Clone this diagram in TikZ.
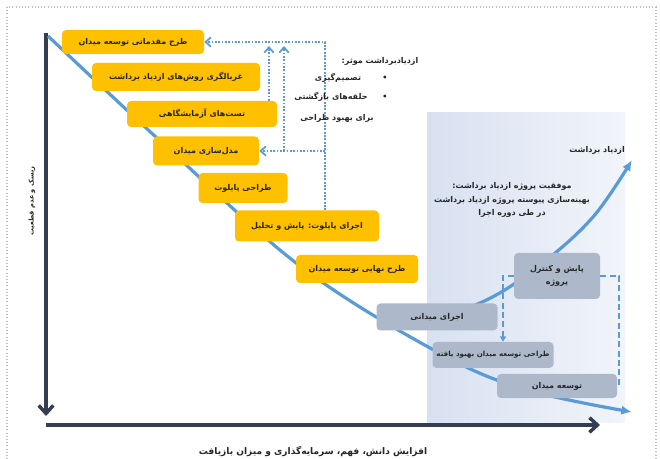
\documentclass[tikz,border=0pt]{standalone}
\usepackage{fontspec}
\usetikzlibrary{arrows.meta}
\newfontfamily\arabicfont[Script=Arabic]{DejaVu Sans}
\TeXXeTstate=1
\definecolor{StageYellow}{RGB}{255,192,0}
\definecolor{FieldGray}{RGB}{173,185,202}
\definecolor{CurveBlue}{RGB}{91,155,213}
\definecolor{AxisSlate}{RGB}{51,63,80}
\definecolor{PanelBlue}{RGB}{216,225,241}
\definecolor{FrameGray}{RGB}{191,191,191}
\newdimen\px \px=0.75pt
\newcommand{\fa}[1]{\beginR#1\endR}
\newcommand{\zw}{\char"200C\relax}
\newcommand{\fasize}[1]{\fontsize{#1}{10}\selectfont}
\tikzset{
  note/.style={font=\arabicfont\bfseries\fasize{6}, text=black!85, inner sep=0pt},
  stagebox/.style={note, fill=StageYellow, rounded corners=3pt},
  fieldbox/.style={note, fill=FieldGray, rounded corners=3pt, align=center},
  loopline/.style={CurveBlue, line width=1.3pt, dash pattern=on 1.3pt off 1.2pt,
    -{Straight Barb[length=4pt,width=7pt]}},
  taskline/.style={CurveBlue, line width=1.6pt, dash pattern=on 4.5pt off 2.5pt},
  trend/.style={CurveBlue, line width=2.4pt, -{Latex[length=8pt,width=7pt]}},
  axisline/.style={AxisSlate, line width=2.6pt, -{Straight Barb[length=6pt,width=11pt]}},
}
\begin{document}
\begin{tikzpicture}[x=0.75pt,y=-0.75pt]
  \useasboundingbox (0,0) rectangle (660,459);
  \draw[FrameGray, line width=1pt, dash pattern=on 0.8pt off 1.6pt] (7,7) rectangle (656,470);
  \shade[left color=PanelBlue, right color=PanelBlue!35!white] (427,113) rectangle (625,422);
  % axes
  \draw[axisline] (46,33) -- (46,416);
  \draw[axisline] (46,425) -- (600,425);
  % trends
  \draw[trend] plot[smooth, tension=0.6] coordinates
    {(48,36) (170,150) (300,266) (430,348) (520,388) (632,412)};
  \draw[trend] plot[smooth, tension=0.6] coordinates
    {(400,326) (480,303) (540,265) (593,217) (632,160)};
  % pilot stages
  \node[stagebox, minimum width=142\px, minimum height=24\px] (prelim) at (133,42) {\fa{طرح مقدماتی توسعه میدان}};
  \node[stagebox, minimum width=168\px, minimum height=28\px] (screen) at (176,77) {\fa{غربالگری روش\zw های ازدیاد برداشت}};
  \node[stagebox, minimum width=150\px, minimum height=26\px] (lab) at (202,114) {\fa{تست\zw های آزمایشگاهی}};
  \node[stagebox, minimum width=106\px, minimum height=29\px] (model) at (206,151) {\fa{مدل\zw سازی میدان}};
  \node[stagebox, minimum width=89\px, minimum height=30\px] (pdesign) at (243,188) {\fa{طراحی پایلوت}};
  \node[stagebox, minimum width=144\px, minimum height=31\px] (pilot) at (307,226) {\fa{اجرای پایلوت: پایش و تحلیل}};
  \node[stagebox, minimum width=122\px, minimum height=28\px] (final) at (357,269) {\fa{طرح نهایی توسعه میدان}};
  % field stages
  \node[fieldbox, minimum width=121\px, minimum height=27\px] (exec) at (437,317) {\fa{اجرای میدانی}};
  \node[fieldbox, minimum width=86\px, minimum height=46\px] (monitor) at (557,276) {\fa{پایش و کنترل}\\\fa{پروژه}};
  \node[fieldbox, minimum width=121\px, minimum height=26\px, font=\arabicfont\bfseries\fasize{5.3}] (improved) at (493,355) {\fa{طراحی توسعه میدان بهبود یافته}};
  \node[fieldbox, minimum width=120\px, minimum height=24\px] (develop) at (557,386) {\fa{توسعه میدان}};
  % feedback loops
  \coordinate (loopR) at (325,41);
  \coordinate (up1) at (269,46);
  \coordinate (up2) at (284,46);
  \draw[loopline] (pilot.north -| loopR) |- (prelim.east);
  \draw[loopline] (loopR |- model.east) -- (model.east);
  \draw[loopline] (up2 |- model.east) -- (up2);
  \draw[loopline] (lab.north -| up1) -- (up1);
  \coordinate (dsplit) at (503,276);
  \coordinate (dright) at (619,386);
  \draw[taskline, -{Triangle[length=4pt,width=4.5pt]}] (monitor.west) -| (improved.north -| dsplit);
  \draw[taskline] (monitor.east) -| (dright) -- (develop.east);
  % notes
  \node[note] (gaintitle) at (380,61) {\fa{ازدیادبرداشت موثر:}};
  \node[note] (dot1) at (385,78) {•};
  \node[note] (dot2) at (385,97) {•};
  \node[note] (item1) at (338,78) {\fa{تصمیم\zw گیری}};
  \node[note] (item2) at (331,97) {\fa{حلقه\zw های بازگشتی}};
  \node[note] (item3) at (337,118) {\fa{برای بهبود طراحی}};
  \node[note] (gain) at (597,150) {\fa{ازدیاد برداشت}};
  \node[note, align=center] (success) at (512,200) {\fa{موفقیت پروژه ازدیاد برداشت:}\\\fa{بهینه\zw سازی پیوسته پروژه ازدیاد برداشت}\\\fa{در طی دوره اجرا}};
  \node[note, font=\arabicfont\bfseries\fasize{6.8}] (xlabel) at (313,451) {\fa{افزایش دانش، فهم، سرمایه\zw گذاری و میزان بازیافت}};
  \node[note, rotate=90, font=\arabicfont\bfseries\fasize{5}] (ylabel) at (32,201) {\fa{ریسک و عدم قطعیت}};
\end{tikzpicture}
\end{document}
